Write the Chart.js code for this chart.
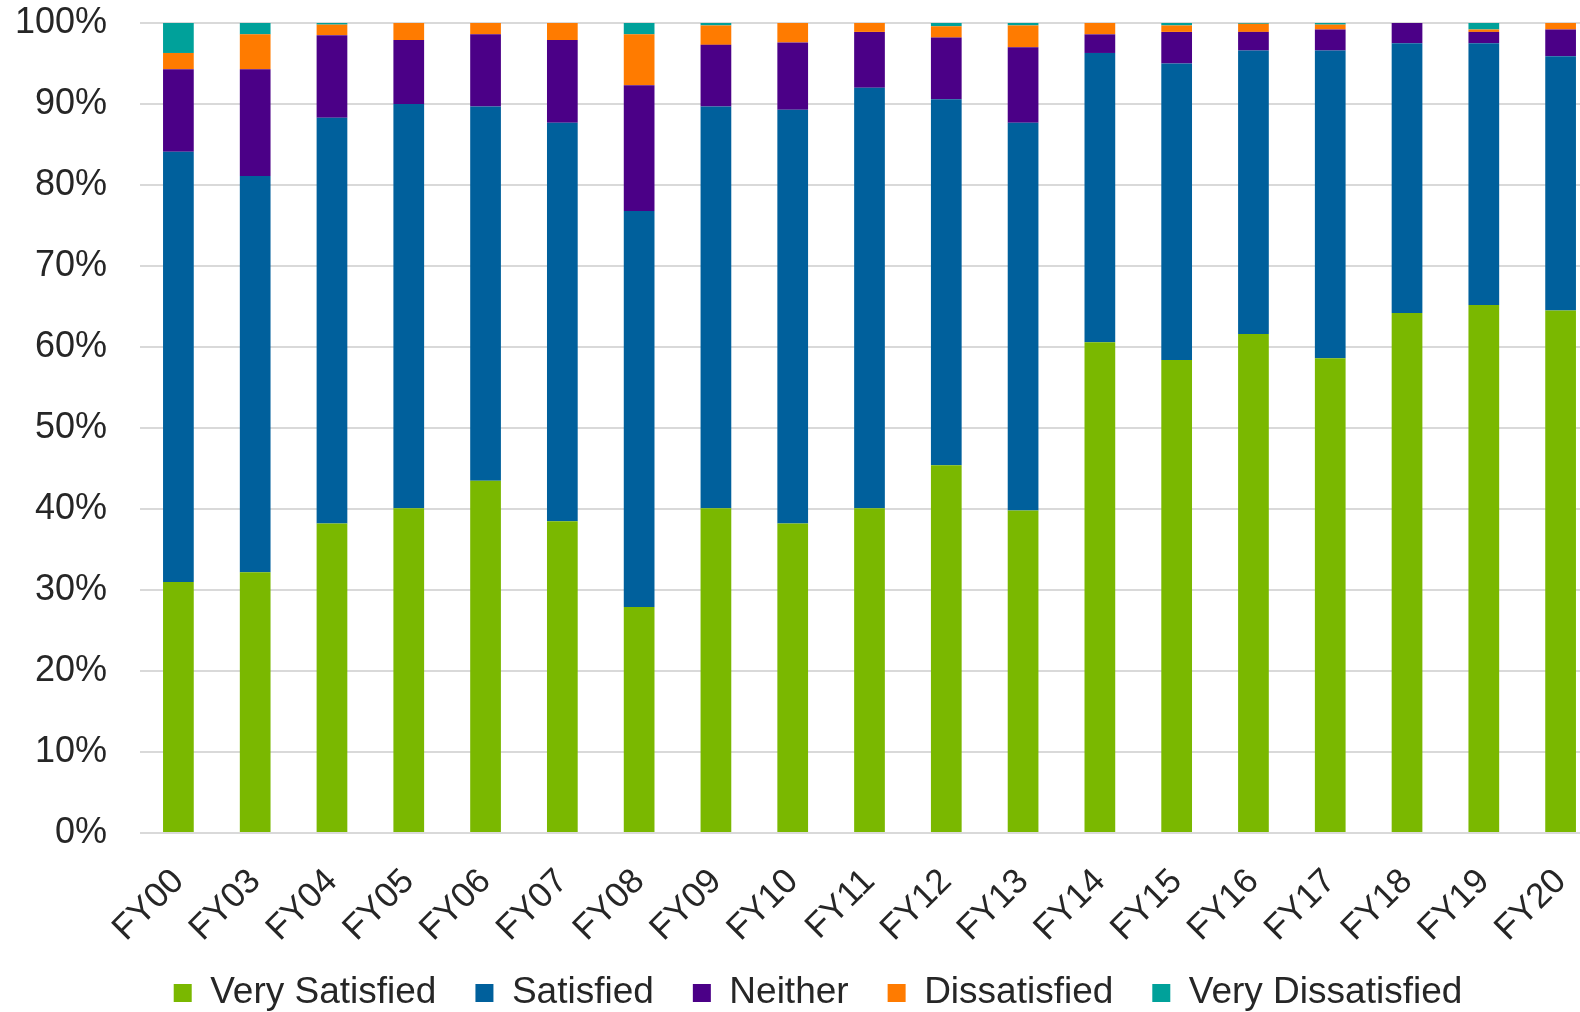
<!DOCTYPE html>
<html>
<head>
<meta charset="utf-8">
<script src="https://cdn.jsdelivr.net/npm/chart.js@4"></script>
<style>
    html, body { margin: 0; padding: 0; background: #fff; overflow: hidden; }
    .wrap { position: relative; width: 1634px; height: 1012px; }
</style>
</head>
<body>
<div class="wrap"><canvas id="satChart"></canvas></div>
<script>
// --- DATA ---
const years = ['FY00', 'FY03', 'FY04', 'FY05', 'FY06', 'FY07', 'FY08', 'FY09', 'FY10', 'FY11',
               'FY12', 'FY13', 'FY14', 'FY15', 'FY16', 'FY17', 'FY18', 'FY19', 'FY20'];
const verySatisfied = [31.0, 32.2, 38.2, 40.1, 43.5, 38.5, 27.9, 40.1, 38.2, 40.1, 45.4, 39.8, 60.6, 58.4, 61.6, 58.6, 64.2, 65.2, 64.5];
const satisfied = [53.1, 48.9, 50.1, 49.9, 46.2, 49.2, 48.9, 49.6, 51.1, 51.9, 45.2, 47.9, 35.7, 36.6, 35.0, 38.0, 33.3, 32.3, 31.4];
const neither = [10.2, 13.2, 10.2, 7.9, 8.9, 10.2, 15.5, 7.6, 8.3, 6.9, 7.6, 9.3, 2.3, 3.9, 2.3, 2.6, 2.5, 1.4, 3.3];
const dissatisfied = [2.0, 4.3, 1.3, 2.1, 1.4, 2.1, 6.3, 2.4, 2.4, 1.1, 1.4, 2.7, 1.4, 0.8, 1.0, 0.6, 0, 0.3, 0.8];
const veryDissatisfied = [3.7, 1.4, 0.3, 0, 0, 0, 1.4, 0.3, 0, 0, 0.4, 0.3, 0, 0.3, 0.2, 0.2, 0, 0.8, 0];
const yTicks = [0, 10, 20, 30, 40, 50, 60, 70, 80, 90, 100];

// --- CONFIG ---
const COLORS = {
    verySatisfied: '#7ab800',
    satisfied: '#00609c',
    neither: '#4b0087',
    dissatisfied: '#ff7b00',
    veryDissatisfied: '#00a19a'
};
const TEXT = '#262626';
const FONT = "'Liberation Sans', Arial, sans-serif";
const LEGEND_FONT = 37;
const LEGEND_PAD = 39;

function series(label, data, color) {
    return { label, data, backgroundColor: color, borderWidth: 0, barPercentage: 0.4, categoryPercentage: 1.0 };
}

// move the legend row to where the original sits
const legendPlace = {
    id: 'legendPlace',
    afterLayout(chart) {
        const l = chart.legend;
        const dx = 818 - (l.left + l.right) / 2;
        const dy = 993 - (l.top + LEGEND_PAD + LEGEND_FONT / 2);
        l.left += dx; l.right += dx;
        l.top += dy; l.bottom += dy;
    }
};

new Chart(document.getElementById('satChart'), {
    type: 'bar',
    data: {
        labels: years,
        datasets: [
            series('Very Satisfied', verySatisfied, COLORS.verySatisfied),
            series('Satisfied', satisfied, COLORS.satisfied),
            series('Neither', neither, COLORS.neither),
            series('Dissatisfied', dissatisfied, COLORS.dissatisfied),
            series('Very Dissatisfied', veryDissatisfied, COLORS.veryDissatisfied)
        ]
    },
    plugins: [legendPlace],
    options: {
        responsive: true,
        maintainAspectRatio: false,
        animation: false,
        layout: { padding: { left: 10, right: 35, top: 23, bottom: -17 } },
        scales: {
            x: {
                stacked: true,
                grid: { display: false },
                border: { display: false },
                ticks: {
                    color: TEXT,
                    font: { family: FONT, size: 35 },
                    maxRotation: 45,
                    minRotation: 45,
                    padding: 20
                },
                // keep the rotated labels from pushing the plot inwards
                afterFit: scale => { scale.paddingLeft = 0; scale.paddingRight = 0; scale.height = 110; }
            },
            y: {
                stacked: true,
                min: 0,
                max: 100,
                afterBuildTicks: axis => { axis.ticks = yTicks.map(v => ({ value: v })); },
                grid: { color: '#d9d9d9', lineWidth: 2, drawTicks: false },
                border: { display: false },
                ticks: {
                    color: TEXT,
                    font: { family: FONT, size: 36 },
                    padding: 33,
                    callback: v => v + '%'
                },
                afterFit: scale => { scale.width = 130; scale.paddingTop = 0; scale.paddingBottom = 0; }
            }
        },
        plugins: {
            legend: {
                position: 'bottom',
                labels: {
                    color: TEXT,
                    font: { family: FONT, size: LEGEND_FONT },
                    boxWidth: 18,
                    boxHeight: 18,
                    padding: LEGEND_PAD
                }
            },
            tooltip: { enabled: false }
        }
    }
});
</script>
</body>
</html>
